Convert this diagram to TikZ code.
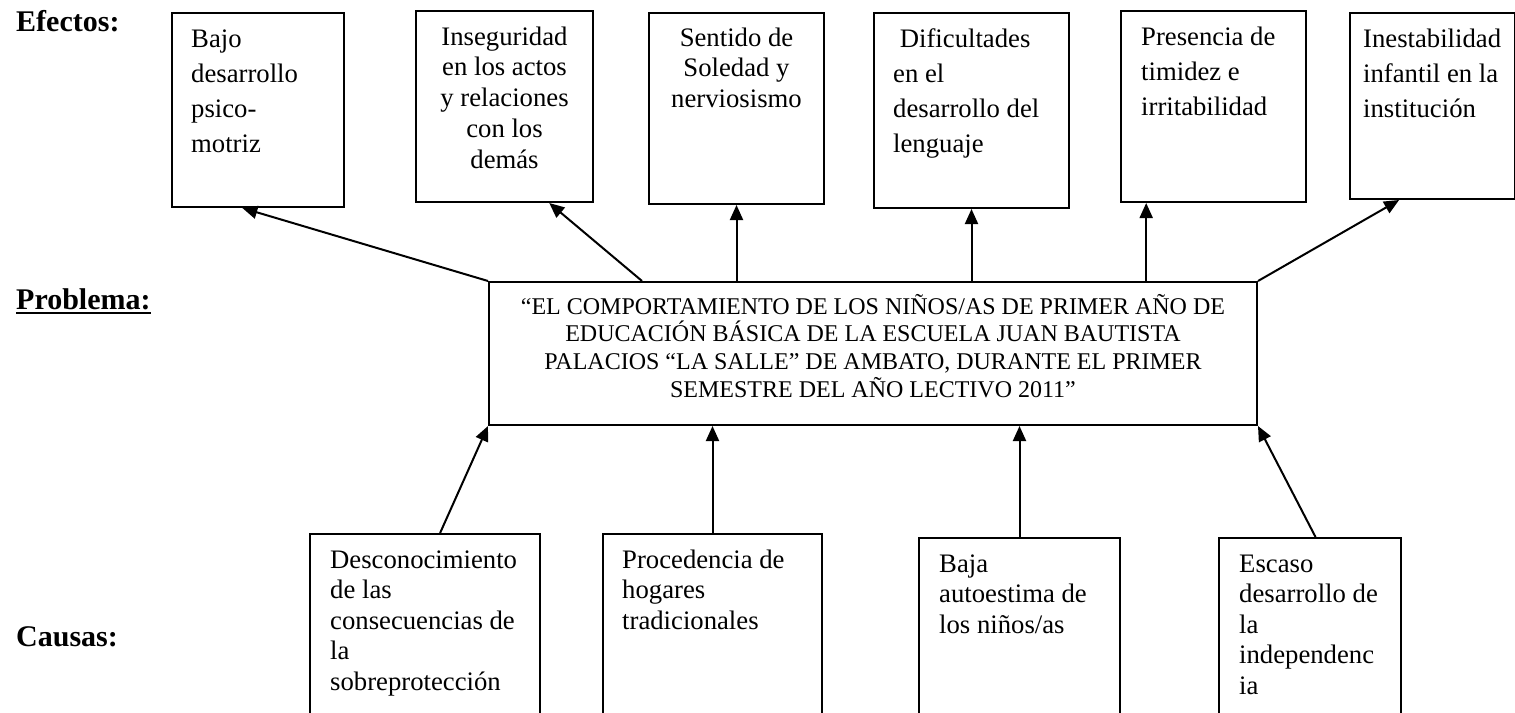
\documentclass[tikz,border=0pt]{standalone}
\usepackage{fontspec}
\setmainfont{Liberation Serif}
\usetikzlibrary{arrows.meta,calc}

\newcommand\effsize{\fontsize{26.7pt}{35.3pt}\selectfont}
\newcommand\tightsize{\fontsize{26.7pt}{30.8pt}\selectfont}
\newcommand\causesize{\fontsize{26.7pt}{30.5pt}\selectfont}
\newcommand\probsize{\fontsize{24pt}{27.7pt}\selectfont}
\newcommand\lblsize{\fontsize{30pt}{34pt}\selectfont}

\begin{document}
\begin{tikzpicture}[x=1pt,y=-1pt,
	box/.style={draw,line width=2pt,inner sep=0pt,anchor=north west},
	txt/.style={inner sep=0pt,anchor=base west},
	arr/.style={line width=2pt,-{Triangle[length=15pt,width=13pt]}},
	lbl/.style={inner sep=0pt,anchor=base west,font=\lblsize\bfseries}]
	\useasboundingbox (0,0) rectangle (1515,712);
	\clip (0,0) rectangle (1515,712);

	\node[lbl] (efectos) at (16,31) {Efectos:};
	\node[lbl] (problema) at (16,309) {Problema:};
	\draw[line width=2pt] ([yshift=-4pt]problema.base west) -- ([yshift=-4pt]problema.base east);
	\node[lbl] (causas) at (16,646) {Causas:};

	\node[box,minimum width=172pt,minimum height=194pt] (e1) at (171,12) {};
	\node[box,minimum width=177pt,minimum height=191pt] (e2) at (415,10) {};
	\node[box,minimum width=175pt,minimum height=191pt] (e3) at (648,12) {};
	\node[box,minimum width=195pt,minimum height=195pt] (e4) at (873,12) {};
	\node[box,minimum width=185pt,minimum height=191pt] (e5) at (1120,10) {};
	\node[box,minimum width=165pt,minimum height=186pt] (e6) at (1349,12) {};

	\node[txt] (t1) at ([shift={(20,35)}]e1.north west) {\parbox[t]{150pt}{\raggedright\effsize Bajo\\desarrollo\\psico-\\motriz}};
	\node[txt,anchor=base] (t2) at ([shift={(0,35)}]e2.north) {\parbox[t]{177pt}{\centering\tightsize Inseguridad\\en los actos\\y relaciones\\con los\\demás}};
	\node[txt,anchor=base] (t3) at ([shift={(0,34)}]e3.north) {\parbox[t]{175pt}{\centering\tightsize Sentido de\\Soledad y\\nerviosismo}};
	\node[txt] (t4) at ([shift={(20,35)}]e4.north west) {\parbox[t]{170pt}{\raggedright\effsize\hspace*{.25em}Dificultades\\en el\\desarrollo del\\lenguaje}};
	\node[txt] (t5) at ([shift={(21,35)}]e5.north west) {\parbox[t]{160pt}{\raggedright\effsize Presencia de\\timidez e\\irritabilidad}};
	\node[txt] (t6) at ([shift={(14,35)}]e6.north west) {\parbox[t]{150pt}{\raggedright\effsize Inestabilidad\\infantil en la\\institución}};

	\node[box,minimum width=768pt,minimum height=143pt] (prob) at (488,281) {};
	\node[txt,anchor=base] (probtxt) at ([shift={(0,33)}]prob.north) {\parbox[t]{760pt}{\centering\probsize “EL COMPORTAMIENTO DE LOS NIÑOS/AS DE PRIMER AÑO DE\\EDUCACIÓN BÁSICA DE LA ESCUELA JUAN BAUTISTA\\PALACIOS “LA SALLE” DE AMBATO, DURANTE EL PRIMER\\SEMESTRE DEL AÑO LECTIVO 2011”}};

	\draw[arr] (prob.north west) -- ($(e1.south west)!.41!(e1.south east)$);
	\draw[arr] ($(prob.north west)!.2!(prob.north east)$) -- ($(e2.south west)!.75!(e2.south east)$);
	\draw[arr] (e3.south |- prob.north) -- (e3.south);
	\draw[arr] (e4.south |- prob.north) -- (e4.south);
	\coordinate (e5a) at ($(e5.south west)!.14!(e5.south east)$);
	\draw[arr] (e5a |- prob.north) -- (e5a);
	\draw[arr] (prob.north east) -- ($(e6.south west)!.3!(e6.south east)$);

	\node[box,minimum width=230pt,minimum height=200pt] (c1) at (309,533) {};
	\node[box,minimum width=219pt,minimum height=200pt] (c2) at (602,533) {};
	\node[box,minimum width=201pt,minimum height=200pt] (c3) at (918,537) {};
	\node[box,minimum width=182pt,minimum height=200pt] (c4) at (1218,537) {};

	\node[txt] (s1) at ([shift={(21,35)}]c1.north west) {\parbox[t]{200pt}{\raggedright\causesize Desconocimiento\\de las\\consecuencias de\\la\\sobreprotección}};
	\node[txt] (s2) at ([shift={(20,35)}]c2.north west) {\parbox[t]{190pt}{\raggedright\causesize Procedencia de\\hogares\\tradicionales}};
	\node[txt] (s3) at ([shift={(21,35)}]c3.north west) {\parbox[t]{175pt}{\raggedright\causesize Baja\\autoestima de\\los niños/as}};
	\node[txt] (s4) at ([shift={(21,35)}]c4.north west) {\parbox[t]{155pt}{\raggedright\causesize Escaso\\desarrollo de\\la\\independenc\\ia}};

	\draw[arr] ($(c1.north west)!.565!(c1.north east)$) -- (prob.south west);
	\draw[arr] (c2.north) -- (c2.north |- prob.south);
	\draw[arr] (c3.north) -- (c3.north |- prob.south);
	\draw[arr] ($(c4.north west)!.53!(c4.north east)$) -- (prob.south east);
\end{tikzpicture}
\end{document}
